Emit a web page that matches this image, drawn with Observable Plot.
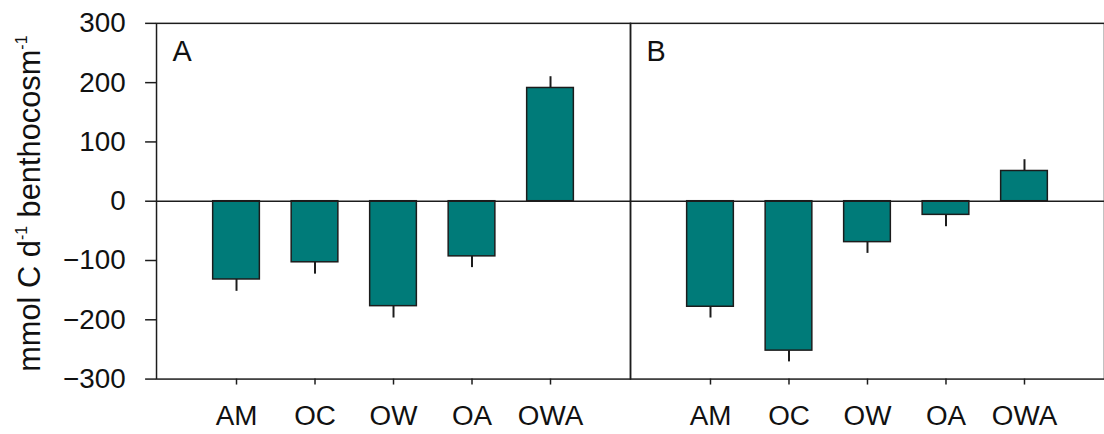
<!DOCTYPE html>
<html>
<head>
<meta charset="utf-8">
<script src="https://cdn.jsdelivr.net/npm/d3@7"></script>
<script src="https://cdn.jsdelivr.net/npm/@observablehq/plot@0.6"></script>
<style>
  html, body { margin: 0; padding: 0; background: #fff; overflow: hidden; }
  #chart { position: relative; width: 1104px; height: 434px; overflow: hidden; }
</style>
</head>
<body>
<div id="chart"></div>
<script>
// Net carbon flux per treatment, two experimental periods (panels A and B)
const panels = ["A", "B"];
const treatments = ["AM", "OC", "OW", "OA", "OWA"];
const meansA = [-132, -103, -177, -93, 191];
const errorsA = [20, 20, 20, 19, 19];
const meansB = [-178, -252, -69, -23, 51];
const errorsB = [19, 19, 19, 20, 19];
const yTicks = [-300, -200, -100, 0, 100, 200, 300];

const rows = [];
treatments.forEach((t, i) => {
  rows.push({panel: "A", treatment: t, value: meansA[i], err: errorsA[i]});
  rows.push({panel: "B", treatment: t, value: meansB[i], err: errorsB[i]});
});

const ink = "#1c1c1c";
const teal = "#007b79";
const font = "'Liberation Sans', Arial, sans-serif";

const chart = Plot.plot({
  width: 1111,
  height: 434,
  marginLeft: 157,
  marginRight: 0,
  marginTop: 23,
  marginBottom: 53,
  style: {fontFamily: font, fontSize: "28px", color: "#111", background: "#fff"},
  fx: {domain: panels, padding: 0, axis: null},
  x: {domain: treatments, paddingInner: 0.4, paddingOuter: 0.7},
  y: {domain: [-300, 300]},
  marks: [
    Plot.ruleX(rows, {
      fx: "panel", x: "treatment",
      y1: "value", y2: d => d.value + Math.sign(d.value) * d.err,
      stroke: ink, strokeWidth: 2
    }),
    Plot.barY(rows, {fx: "panel", x: "treatment", y: "value", fill: teal, stroke: ink, strokeWidth: 1.5}),
    Plot.ruleY([0], {stroke: ink, strokeWidth: 1.5}),
    Plot.frame({stroke: ink, strokeWidth: 1.5}),
    Plot.text(panels, {
      fx: d => d, text: d => d, frameAnchor: "top-left",
      dx: 16, dy: 17, lineAnchor: "top", textAnchor: "start", fontSize: 29, fill: "#111"
    }),
    Plot.axisX({tickSize: 6, tickPadding: 20, label: null, fontSize: 28, stroke: ink, strokeWidth: 1.5}),
    Plot.axisY({ticks: yTicks, tickSize: 11, tickPadding: 20, label: null, fontSize: 28, stroke: ink, strokeWidth: 1.5})
  ]
});

// Rotated y-axis title with superscript exponents
const title = d3.select(chart).append("text")
  .attr("transform", "translate(40,205) rotate(-90)")
  .attr("text-anchor", "middle")
  .attr("font-family", font)
  .attr("font-size", 31)
  .attr("fill", "#111");
title.append("tspan").text("mmol C d");
title.append("tspan").attr("dy", -13).attr("font-size", 16).text("-1");
title.append("tspan").attr("dy", 13).text(" benthocosm");
title.append("tspan").attr("dy", -13).attr("font-size", 16).text("-1");

document.getElementById("chart").append(chart);
</script>
</body>
</html>
